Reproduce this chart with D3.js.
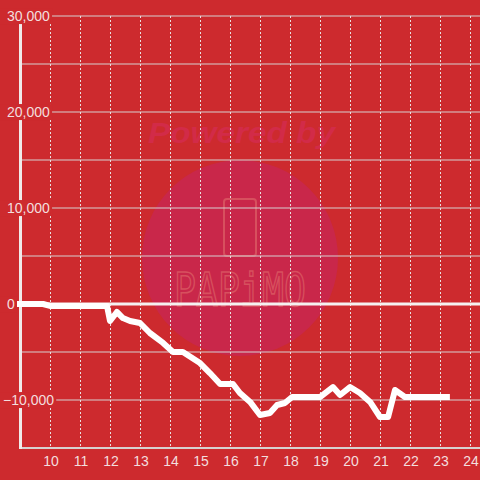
<!DOCTYPE html>
<html>
<head>
<meta charset="utf-8">
<script src="https://cdn.jsdelivr.net/npm/d3@7"></script>
<style>
  html, body { margin: 0; padding: 0; background: #cd2a2e; }
  svg { display: block; font-family: "Liberation Sans", Arial, sans-serif; }
</style>
</head>
<body>
<div class="chart-container"></div>
<script>
// hour of day
const hours = [8.9, 9.77, 10.0, 11.67, 11.9, 12.0, 12.23, 12.43, 12.67, 13.0, 13.33, 13.77, 14.1, 14.43,
  15.0, 15.33, 15.67, 16.1, 16.33, 16.67, 17.0, 17.33, 17.57, 17.83, 18.07, 19.0, 19.43, 19.67,
  20.0, 20.33, 20.67, 21.0, 21.27, 21.5, 21.83, 23.33];
// running total
const values = [0, 0, -200, -200, -200, -1770, -830, -1460, -1770, -1980, -3020, -4060, -5000, -5000,
  -6150, -7190, -8330, -8330, -9270, -10200, -11560, -11350, -10520, -10310, -9690, -9690, -8650, -9480,
  -8650, -9270, -10200, -11770, -11770, -8960, -9690, -9690];
const xTicks = [10, 11, 12, 13, 14, 15, 16, 17, 18, 19, 20, 21, 22, 23, 24];
const yGrid = [-15000, -10000, -5000, 0, 5000, 10000, 15000, 20000, 25000, 30000];
const yLabels = [30000, 20000, 10000, 0, -10000];

const W = 480, H = 480;
const bg = '#cd2a2e';
const txt = '#f3dede';

const svg = d3.select('.chart-container')
  .append('svg')
  .attr('width', W)
  .attr('height', H);

svg.append('rect').attr('width', W).attr('height', H).attr('fill', bg);

const x = d3.scaleLinear().domain([9, 24]).range([20, 470]);
const y = d3.scaleLinear().domain([-15000, 30000]).range([448, 16]);

// watermark
const wm = svg.append('g');
wm.append('circle').attr('cx', 240).attr('cy', 258).attr('r', 98).attr('fill', '#c9274a');
wm.append('text')
  .attr('x', 148).attr('y', 143)
  .attr('textLength', 187).attr('lengthAdjust', 'spacingAndGlyphs')
  .style('font-size', '29px').style('font-weight', 'bold').style('font-style', 'italic')
  .attr('fill', '#d22b48')
  .text('Powered by');
wm.append('rect')
  .attr('x', 224).attr('y', 199).attr('width', 32).attr('height', 57).attr('rx', 3)
  .attr('fill', 'none').attr('stroke', '#d7505e').attr('stroke-width', 2);
wm.append('text')
  .attr('x', 174).attr('y', 306)
  .attr('textLength', 132).attr('lengthAdjust', 'spacingAndGlyphs')
  .style('font-size', '46px').style('font-family', '"DejaVu Sans Mono", monospace')
  .attr('fill', 'none').attr('stroke', '#d7505e').attr('stroke-width', 1.6)
  .text('PAPiMO');

// horizontal grid
svg.append('g')
  .selectAll('line')
  .data(yGrid.filter(d => d !== 0 && d !== -15000))
  .enter()
  .append('line')
  .attr('x1', 20).attr('x2', W)
  .attr('y1', d => y(d)).attr('y2', d => y(d))
  .attr('stroke', '#d6d0d0').attr('stroke-width', 1);

// vertical dotted grid
svg.append('g')
  .selectAll('line')
  .data(xTicks)
  .enter()
  .append('line')
  .attr('x1', d => Math.round(x(d)) + 0.5).attr('x2', d => Math.round(x(d)) + 0.5)
  .attr('y1', y(30000)).attr('y2', y(-15000) - 1)
  .attr('stroke', '#e8e0e0').attr('stroke-width', 1)
  .attr('stroke-dasharray', '2,2');

// bottom line
svg.append('line')
  .attr('x1', 20).attr('x2', W)
  .attr('y1', y(-15000)).attr('y2', y(-15000))
  .attr('stroke', '#d6d0d0').attr('stroke-width', 2);

// left axis
svg.append('line')
  .attr('x1', 20.5).attr('x2', 20.5)
  .attr('y1', y(30000)).attr('y2', y(-15000) + 1)
  .attr('stroke', '#f0eaea').attr('stroke-width', 3);

// zero line
svg.append('line')
  .attr('x1', 20).attr('x2', W)
  .attr('y1', y(0)).attr('y2', y(0))
  .attr('stroke', '#f5f0f0').attr('stroke-width', 3);

// y labels with background
const fmt = d3.format(',');
const yl = svg.append('g')
  .selectAll('g')
  .data(yLabels)
  .enter()
  .append('g');
yl.append('text')
  .attr('x', d => d < 0 ? 3 : 7)
  .attr('y', d => y(d))
  .attr('dy', '0.36em')
  .style('font-size', '14px')
  .attr('fill', txt)
  .text(d => fmt(d))
  .each(function () {
    const b = this.getBBox();
    d3.select(this.parentNode).insert('rect', 'text')
      .attr('x', 0).attr('y', b.y)
      .attr('width', b.x + b.width + 2).attr('height', b.height)
      .attr('fill', bg);
  });

// x labels
svg.append('g')
  .selectAll('text')
  .data(xTicks)
  .enter()
  .append('text')
  .attr('x', d => x(d) + 1)
  .attr('y', 466)
  .attr('text-anchor', 'middle')
  .style('font-size', '14px')
  .attr('fill', txt)
  .text(d => d);

// data line
const line = d3.line()
  .x(d => x(d[0]))
  .y(d => y(d[1]));

svg.append('path')
  .datum(hours.map((h, i) => [h, values[i]]))
  .attr('d', line)
  .attr('fill', 'none')
  .attr('stroke', '#ffffff')
  .attr('stroke-width', 6)
  .attr('stroke-linejoin', 'round');
</script>
</body>
</html>
